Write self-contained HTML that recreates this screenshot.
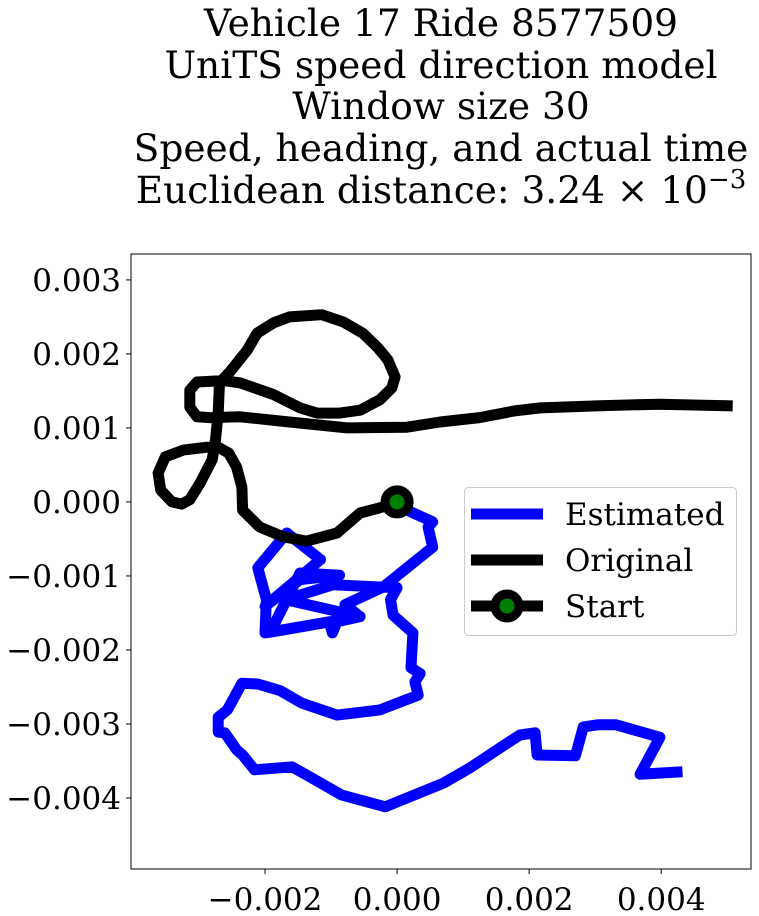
<!DOCTYPE html>
<html><head><meta charset="utf-8"><style>
html,body{margin:0;padding:0;background:#fff;}
svg{display:block;font-family:"DejaVu Serif","Liberation Serif",serif;}
</style></head><body>
<svg id="chart" width="759" height="916" xmlns="http://www.w3.org/2000/svg">
<g font-size="37.5" text-anchor="middle" fill="#000">
<text x="441" y="36">Vehicle 17 Ride 8577509</text>
<text x="441" y="78">UniTS speed direction model</text>
<text x="441" y="119">Window size 30</text>
<text x="441" y="161">Speed, heading, and actual time</text>
<text x="441" y="203">Euclidean distance: 3.24 × 10<tspan dy="-15" font-size="26">−3</tspan></text>
</g>
<g id="plot"></g>
</svg>
<script>
// values in units of 1e-3
const estX=[0,0.15,0.54,0.47,0.54,-0.21,-0.79,-0.56,-1.92,-1.47,-0.87,-1.47,-2.00,-1.16,-1.67,-2.11,-1.98,-2.00,-1.03,-0.98,-0.91,-0.56,-1.69,-0.97,0,-0.10,-0.06,0.24,0.21,0.35,0.27,0.32,-0.26,-0.91,-1.44,-1.77,-2.11,-2.35,-2.57,-2.71,-2.71,-2.61,-2.43,-2.34,-2.16,-1.59,-1.37,-0.84,-0.18,0.70,1.11,1.65,1.86,2.09,2.12,2.70,2.82,3.05,3.31,3.98,3.68,4.24];
const estY=[0,-0.11,-0.27,-0.34,-0.61,-1.15,-1.39,-1.55,-1.76,-0.96,-0.99,-1.05,-1.41,-0.78,-0.42,-0.89,-1.32,-1.77,-1.62,-1.77,-1.62,-1.55,-1.32,-1.12,-1.16,-1.32,-1.53,-1.77,-2.24,-2.32,-2.43,-2.61,-2.81,-2.88,-2.72,-2.55,-2.46,-2.45,-2.81,-2.91,-3.11,-3.12,-3.35,-3.42,-3.62,-3.58,-3.69,-3.96,-4.12,-3.80,-3.59,-3.27,-3.15,-3.12,-3.42,-3.43,-3.04,-3.01,-3.01,-3.18,-3.68,-3.65];
const origX=[0,-0.26,-0.56,-0.91,-1.37,-1.73,-2.08,-2.34,-2.35,-2.43,-2.55,-2.69,-2.88,-3.24,-3.51,-3.62,-3.58,-3.41,-3.26,-3.14,-2.98,-2.80,-2.75,-2.71,-2.69,-2.53,-2.27,-2.12,-1.87,-1.63,-1.14,-0.81,-0.52,-0.30,-0.14,-0.03,-0.08,-0.26,-0.56,-0.87,-1.21,-1.47,-1.87,-2.38,-2.64,-3.03,-3.14,-3.14,-3.03,-2.84,-2.38,-1.63,-0.76,0.15,0.65,1.25,1.78,2.17,3.07,3.97,5.00];
const origY=[0,-0.08,-0.15,-0.42,-0.53,-0.47,-0.34,-0.11,0.20,0.47,0.66,0.73,0.74,0.70,0.61,0.39,0.16,0,-0.03,0.03,0.26,0.57,0.84,1.20,1.61,1.76,2.05,2.28,2.42,2.50,2.53,2.43,2.28,2.09,1.92,1.69,1.54,1.38,1.24,1.20,1.20,1.27,1.45,1.61,1.64,1.62,1.51,1.28,1.15,1.14,1.15,1.08,1.00,1.01,1.08,1.14,1.23,1.27,1.30,1.32,1.30];
const startPt=[0,0];
const xTicks=[-2,0,2,4];
const xTickLabels=["\u22120.002","0.000","0.002","0.004"];
const yTicks=[3,2,1,0,-1,-2,-3,-4];
const yTickLabels=["0.003","0.002","0.001","0.000","\u22120.001","\u22120.002","\u22120.003","\u22120.004"];

const L=131,R=751,T=254,B=869, xmin=-4.03,xmax=5.36,ymin=-4.96,ymax=3.35;
const sx=v=>L+(v-xmin)/(xmax-xmin)*(R-L);
const sy=v=>B-(v-ymin)/(ymax-ymin)*(B-T);
const NS="http://www.w3.org/2000/svg";
const g=document.getElementById('plot');
function mk(t,a,p){const e=document.createElementNS(NS,t);for(const k in a)e.setAttribute(k,a[k]);(p||g).appendChild(e);return e;}

const clip=mk('clipPath',{id:'clip'});mk('rect',{x:L,y:T,width:R-L,height:B-T},clip);

function line(xs,ys,col,name){
  const n=Math.min(xs.length,ys.length);let d='';
  for(let i=0;i<n;i++)d+=(i?'L':'M')+sx(xs[i]).toFixed(1)+','+sy(ys[i]).toFixed(1);
  const p=mk('path',{d:d,fill:'none',stroke:col,'stroke-width':11,'stroke-linejoin':'round','stroke-linecap':'square','clip-path':'url(#clip)'});
  
  
}
line(estX,estY,'#0000ff','estimated-line');
line(origX,origY,'#000','original-line');
const sm=mk('circle',{cx:sx(startPt[0]),cy:sy(startPt[1]),r:12,fill:'#008000',stroke:'#000','stroke-width':9});



const fr=mk('rect',{x:L,y:T,width:R-L,height:B-T,fill:'none',stroke:'#000','stroke-width':1});



xTicks.forEach((v,i)=>{
  const x=sx(v);
  mk('line',{x1:x,x2:x,y1:B,y2:B+5,stroke:'#000'});
  const t=mk('text',{x:x,y:B+41,'font-size':31,'text-anchor':'middle'});t.textContent=xTickLabels[i];
  
  
});
yTicks.forEach((v,i)=>{
  const y=sy(v);
  mk('line',{x1:L-5,x2:L,y1:y,y2:y,stroke:'#000'});
  const t=mk('text',{x:L-10,y:y+11,'font-size':31,'text-anchor':'end'});t.textContent=yTickLabels[i];
  
  
});

const lg=mk('g',{});


mk('rect',{x:464.5,y:487.5,width:272,height:148,rx:4,fill:'#fff','fill-opacity':0.8,stroke:'#ccc'},lg);
const items=[['Estimated','#0000ff',false],['Original','#000',false],['Start','#000',true]];
items.forEach((it,i)=>{
  const y=514+i*46;
  mk('line',{x1:471,x2:543,y1:y,y2:y,stroke:it[1],'stroke-width':11},lg);
  if(it[2])mk('circle',{cx:507,cy:y,r:12,fill:'#008000',stroke:'#000','stroke-width':9},lg);
  const t=mk('text',{x:565,y:y+11,'font-size':31},lg);t.textContent=it[0];
  
  
});
</script>
</body></html>
